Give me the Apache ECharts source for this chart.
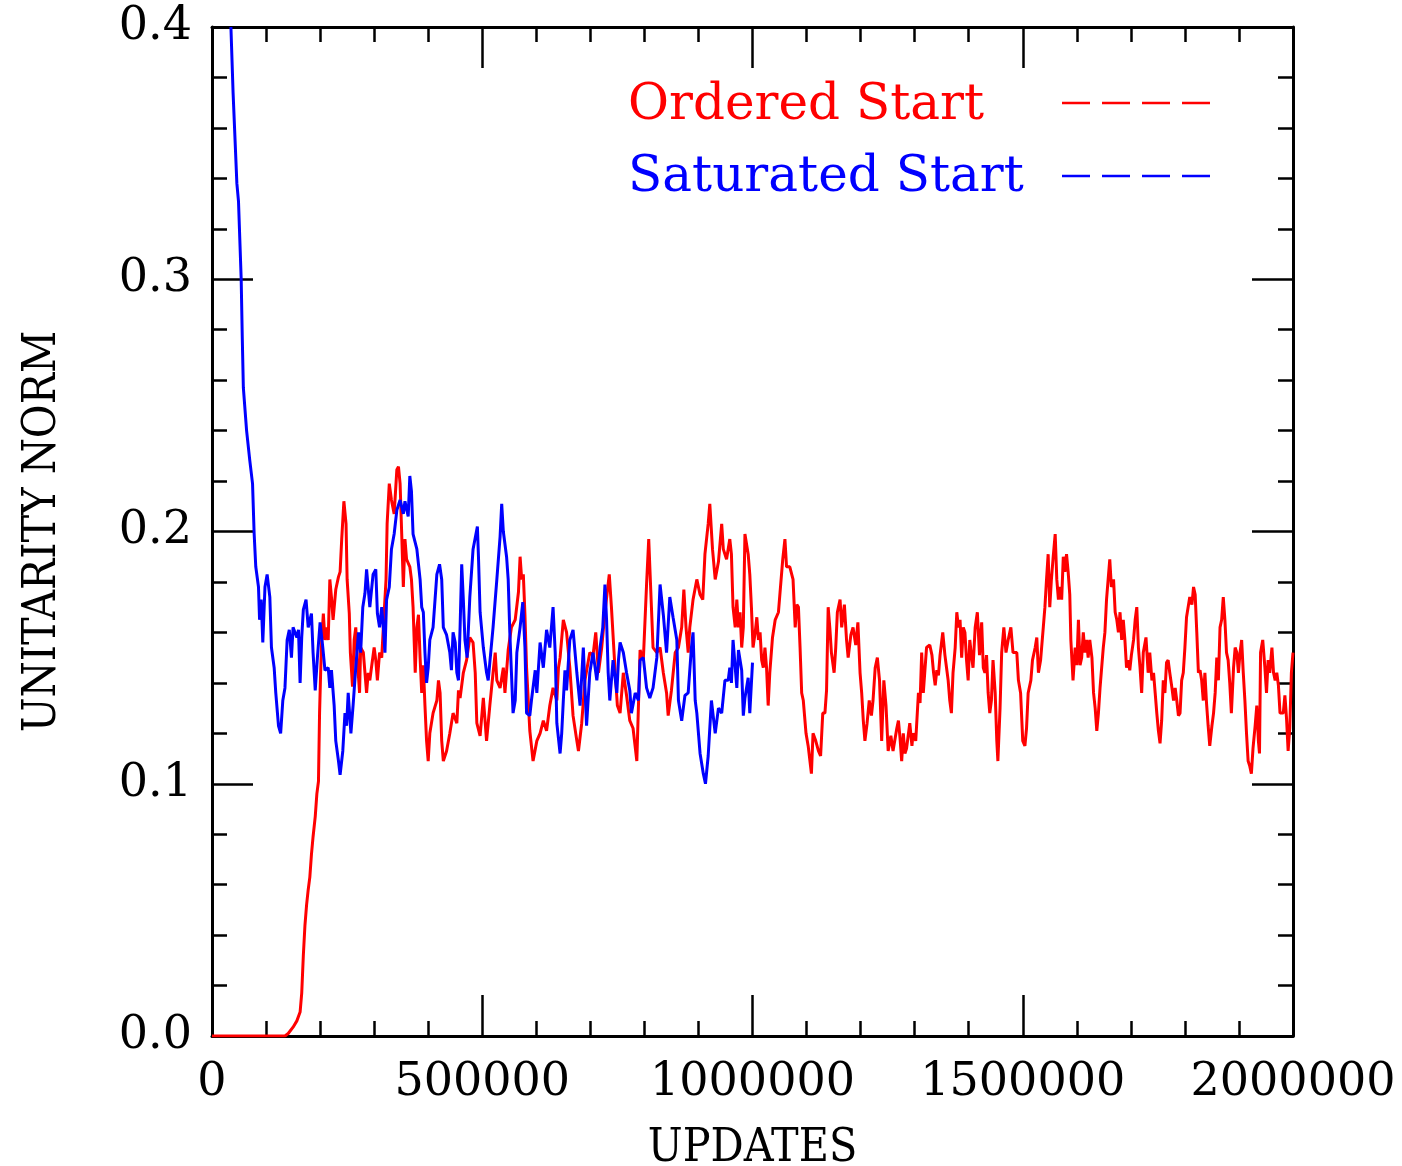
<!DOCTYPE html>
<html>
<head>
<meta charset="utf-8">
<title>Unitarity norm vs updates</title>
<script src="https://cdn.jsdelivr.net/npm/echarts@6/dist/echarts.min.js"></script>
<style>
  html, body { margin: 0; padding: 0; background: #fff; }
  #chart { width: 1402px; height: 1166px; }
</style>
</head>
<body>
<div id="chart"></div>
<script>
// x values are in thousands of updates
const orderedK = [
  0, 135, 141, 150, 157, 163, 166, 169, 172, 175,
  178, 181, 184, 187, 191, 194,
  197, 199, 201, 203, 206, 209, 212, 215, 218, 221,
  224, 229, 234, 237, 240, 244, 248, 250, 254, 256,
  260, 263, 266, 269, 273, 275, 280, 286, 289, 292,
  295, 300, 303, 306, 310, 314, 317, 322, 324, 328,
  332, 337, 342, 345, 348, 351, 354, 357, 360, 366,
  369, 372, 376, 379, 382, 385, 388,
  391, 394, 397, 400, 403, 409, 416, 419, 422, 425,
  428, 434, 440, 446, 453, 456, 459, 465, 471, 477,
  483, 487, 490, 496, 502, 508, 514, 520, 524, 527,
  533, 539, 542, 548, 554, 561, 567, 570, 573, 576,
  579, 582, 588, 594, 601, 607, 613, 619, 625, 631,
  638, 641, 644, 650, 656, 662, 668, 675, 678, 684,
  690, 699, 705, 710, 715, 721, 727, 735, 739, 746,
  750, 755, 761, 767, 773, 779, 786, 792, 798, 804,
  808, 813, 816, 823, 829, 835, 841, 844, 850, 857,
  863, 869, 873, 877, 881, 884, 890, 897, 903, 908,
  912, 918, 921, 926, 931, 937, 943, 946, 952, 958,
  961, 964, 968, 971, 974, 977, 980, 983, 986, 989,
  992, 995, 998, 1001, 1005, 1008, 1011, 1014, 1017, 1020,
  1023, 1026, 1029, 1032, 1037, 1042, 1048, 1051, 1056, 1060,
  1063, 1069, 1075, 1079, 1082, 1085, 1088, 1091, 1094, 1099,
  1103, 1109, 1112, 1117, 1122, 1126, 1130, 1134, 1137, 1140,
  1143, 1146, 1151, 1154, 1157, 1162, 1165, 1170, 1174, 1177,
  1182, 1186, 1191, 1195, 1199, 1202, 1205, 1208, 1212, 1216,
  1220, 1223, 1227, 1231, 1235, 1239, 1243, 1247, 1251, 1256,
  1260, 1267, 1270, 1273, 1276, 1279, 1282, 1285, 1291, 1295,
  1297, 1302, 1307, 1310, 1313, 1316, 1319, 1322, 1328, 1332,
  1335, 1338, 1341, 1344, 1347, 1352, 1356, 1359, 1362, 1365,
  1368, 1371, 1375, 1378, 1381, 1384, 1387, 1390, 1393, 1396,
  1399, 1402, 1405, 1408, 1412, 1416, 1420, 1424, 1427, 1430,
  1433, 1436, 1439, 1442, 1445, 1449, 1452, 1454, 1458, 1461,
  1465, 1469, 1473, 1478, 1482, 1489, 1492, 1496, 1500, 1504,
  1507, 1510, 1515, 1518, 1523, 1526, 1529, 1533, 1538, 1541,
  1544, 1547, 1550, 1553, 1556, 1560, 1563, 1566, 1569, 1572,
  1575, 1578, 1581, 1584, 1587, 1589, 1593, 1597, 1600, 1603,
  1606, 1609, 1612, 1615, 1618, 1621, 1624, 1628, 1631, 1634,
  1637, 1640, 1643, 1646, 1649, 1652, 1655, 1658, 1661, 1664,
  1668, 1671, 1674, 1677, 1680, 1683, 1686, 1689, 1692, 1695,
  1698, 1701, 1705, 1708, 1711, 1714, 1717, 1720, 1723, 1728,
  1732, 1735, 1739, 1742, 1745, 1748, 1751, 1754, 1757, 1760,
  1763, 1766, 1769, 1772, 1776, 1779, 1782, 1785, 1788, 1791,
  1794, 1797, 1800, 1803, 1806, 1809, 1813, 1816, 1819, 1822,
  1825, 1828, 1831, 1834, 1837, 1840, 1843, 1846, 1850, 1853,
  1856, 1859, 1862, 1865, 1868, 1871, 1874, 1877, 1880, 1883,
  1886, 1890, 1893, 1896, 1899, 1902, 1905, 1908, 1911, 1914,
  1917, 1920, 1923, 1926, 1930, 1933, 1936, 1938, 1940, 1944,
  1948, 1951, 1954, 1957, 1961, 1964, 1967, 1970, 1973, 1976,
  1982, 1985, 1988, 1991, 1994, 1997, 2000
];
const orderedNorm = [
  0, 0, .001, .0035, .006, .0095, .017, .032, .044, .052,
  .058, .063, .072, .079, .087, .096,
  .101, .128, .144, .157, .1675, .157, .162, .157, .181, .174,
  .165, .177, .182, .184, .197, .212, .203, .181, .1675, .152,
  .1385, .157, .162, .149, .136, .154, .152, .136, .144, .141,
  .146, .154, .149, .141, .152, .150, .162, .181, .203, .219,
  .2125, .207, .2245, .2257, .219, .199, .178, .197, .189, .186,
  .181, .170, .144, .162, .167, .150, .136,
  .147, .131, .117, .109, .120, .128, .133, .141, .136, .117,
  .109, .113, .120, .128, .124, .137, .134, .144, .149, .158,
  .156, .144, .124, .119, .134, .117, .131, .144, .152, .141,
  .138, .146, .136, .153, .162, .165, .176, .190, .181, .183,
  .167, .146, .121, .109, .117, .120, .125, .121, .131, .138,
  .133, .146, .150, .165, .160, .146, .127, .117, .113, .124,
  .141, .152, .151, .160, .144, .154, .168, .183, .170, .144,
  .131, .128, .144, .135, .125, .122, .109, .153, .149, .179,
  .197, .170, .154, .152, .154, .144, .136, .127, .137, .152,
  .154, .162, .177, .162, .152, .162, .173, .181, .175, .173,
  .191, .203, .211, .193, .181, .188, .203, .193, .189, .197,
  .191, .170, .162, .173, .162, .168, .154, .162, .199, .199,
  .191, .183, .170, .154, .160, .166, .157, .160, .149, .146,
  .154, .146, .131, .144, .158, .165, .168, .176, .189, .197,
  .186, .186, .181, .162, .171, .170, .154, .136, .133, .120,
  .115, .104, .120, .117, .113, .111, .128, .128, .137, .170,
  .162, .152, .144, .154, .168, .173, .162, .171, .157, .150,
  .159, .162, .155, .164, .144, .136, .125, .117, .124, .133,
  .127, .133, .146, .150, .141, .117, .141, .131, .113, .119,
  .113, .122, .125, .118, .109, .120, .112, .114, .124, .115,
  .120, .117, .136, .132, .152, .136, .145, .154, .155, .151,
  .144, .139, .145, .143, .151, .160, .151, .146, .141, .133,
  .128, .144, .154, .168, .162, .165, .150, .162, .160, .149,
  .141, .157, .151, .146, .162, .168, .151, .164, .146, .144,
  .151, .136, .128, .133, .149, .136, .117, .109, .130, .152,
  .162, .152, .157, .162, .152, .152, .141, .136, .117, .115,
  .122, .136, .141, .149, .154, .158, .144, .149, .162, .170,
  .181, .191, .170, .181, .189, .199, .181, .173, .178, .173,
  .190, .184, .191, .184, .175, .157, .141, .154, .147, .165,
  .147, .150, .160, .152, .157, .150, .157, .150, .136, .130,
  .121, .128, .138, .146, .154, .160, .173, .181, .189, .178,
  .181, .168, .165, .160, .168, .157, .165, .157, .146, .149,
  .145, .151, .157, .165, .170, .154, .146, .136, .152, .158,
  .144, .152, .141, .144, .136, .128, .121, .116, .125, .141,
  .136, .148, .149, .144, .138, .133, .138, .133, .127, .128,
  .141, .144, .154, .166, .166, .174, .171, .178, .175, .160,
  .144, .145, .141, .133, .144, .132, .123, .115, .123, .128,
  .136, .150, .141, .162, .165, .174, .165, .152, .149, .140,
  .128, .146, .154, .152, .144, .152, .157, .144, .133, .120,
  .109, .107, .104, .114, .123, .131, .117, .112, .152, .157,
  .146, .136, .149, .144, .154, .144, .141, .144, .139, .128,
  .128, .135, .126, .113, .122, .144, .152
];
const saturatedK = [
  35, 39, 46, 49, 54, 56, 58, 64, 70, 75,
  78, 81, 86, 88, 91, 94, 98, 102, 107, 110,
  115, 118, 123, 127, 131, 135, 139, 143, 147, 150,
  157, 160, 163, 166, 169, 174, 178, 184, 187, 191,
  195, 200, 205, 209, 215, 218, 221, 226, 229, 234,
  237, 242, 246, 249, 252, 257, 261, 266, 271, 275,
  279, 283, 286, 292, 298, 303, 306, 310, 314, 317,
  320, 323, 328, 332, 337, 342, 348, 354, 357, 363,
  366,
  369, 372, 379, 385, 388, 391, 394, 397, 400, 403,
  409, 416, 421, 425, 428, 434, 440, 443, 446, 450,
  453, 456, 459, 462, 465, 468, 472, 477, 483, 491,
  493, 496, 502, 508, 511, 514, 520, 527, 533, 536,
  539, 545, 548, 551, 554, 557, 561, 564, 570, 575,
  579, 582, 588, 591, 598, 601, 607, 613, 619, 625,
  631, 635, 638, 644, 647, 650, 653, 656, 662, 668,
  675, 681, 687, 693, 699, 705, 712, 718, 723, 727,
  730, 733, 736, 742, 749, 752, 755, 761, 767, 773,
  776, 783, 789, 792, 798, 804, 810, 816, 823, 829,
  835, 841, 847, 853, 860, 863, 869, 875, 881, 887,
  890, 894, 897, 903, 909, 913, 918, 924, 931, 937,
  943, 949, 955, 958, 961, 964, 971, 974, 980, 983,
  986, 992, 995, 1000
];
const saturatedNorm = [
  .400, .374, .338, .331, .300, .277, .257, .240, .228, .219,
  .199, .186, .178, .165, .173, .156, .178, .183, .174, .154,
  .146, .136, .123, .120, .133, .138, .157, .161, .150, .162,
  .158, .161, .140, .158, .169, .173, .162, .1675, .152, .137,
  .150, .164, .154, .145, .146, .138, .145, .131, .117, .109,
  .1035, .113, .128, .123, .136, .120, .131, .146, .160, .152,
  .170, .1755, .185, .170, .183, .185, .1675, .162, .170, .162,
  .152, .173, .178, .193, .199, .2085, .2125, .207, .212, .206,
  .222,
  .216, .199, .193, .181, .170, .168, .152, .140, .146, .157,
  .162, .183, .187, .181, .162, .159, .152, .145, .160, .156,
  .144, .141, .162, .187, .173, .157, .150, .174, .193, .202,
  .190, .168, .154, .144, .141, .148, .162, .181, .198, .211,
  .200, .190, .181, .160, .144, .128, .133, .152, .162, .172,
  .154, .128, .127, .133, .145, .136, .156, .146, .161, .154,
  .170, .152, .124, .112, .120, .133, .145, .137, .157, .161,
  .144, .131, .154, .123, .144, .152, .141, .154, .162, .179,
  .165, .144, .133, .149, .136, .149, .156, .152, .144, .137,
  .128, .136, .133, .149, .150, .138, .134, .138, .150, .179,
  .167, .152, .174, .166, .157, .133, .125, .135, .136, .154,
  .160, .133, .128, .112, .104, .100, .111, .133, .120, .130,
  .128, .141, .141, .146, .140, .157, .138, .153, .145, .127,
  .134, .142, .128, .148
];

const tickFont = 'DejaVu Serif';
const nameFont = "'DejaVu Serif Condensed', 'DejaVu Serif'";

function toPoints(kArr, vArr) {
  return kArr.map((k, i) => [k * 1000, vArr[i]]);
}

const chart = echarts.init(document.getElementById('chart'), null, { renderer: 'canvas' });

const tickLine = { color: '#000', width: 2.5 };
const frameLine = { show: true, onZero: false, lineStyle: { color: '#000', width: 3 } };

function xAxisDef(pos, showLabel) {
  return {
    type: 'value', position: pos, min: 0, max: 2000000, interval: 500000,
    axisLine: frameLine,
    axisTick: { show: true, inside: true, length: 41, lineStyle: tickLine },
    minorTick: { show: true, splitNumber: 5, length: 15, lineStyle: tickLine },
    splitLine: { show: false },
    minorSplitLine: { show: false },
    axisLabel: {
      show: showLabel, margin: 24, color: '#000', fontFamily: tickFont, fontSize: 46,
      showMinLabel: true, showMaxLabel: true, hideOverlap: false,
      formatter: v => String(v)
    }
  };
}

function yAxisDef(pos, showLabel) {
  return {
    type: 'value', position: pos, min: 0, max: 0.4, interval: 0.1,
    axisLine: frameLine,
    axisTick: { show: true, inside: true, length: 41, lineStyle: tickLine },
    minorTick: { show: true, splitNumber: 5, length: 15, lineStyle: tickLine },
    splitLine: { show: false },
    minorSplitLine: { show: false },
    axisLabel: {
      show: showLabel, margin: 20, color: '#000', fontFamily: tickFont, fontSize: 46,
      showMinLabel: true, showMaxLabel: true, hideOverlap: false,
      formatter: v => v.toFixed(1)
    }
  };
}

const xBottom = Object.assign(xAxisDef('bottom', true), {
  name: 'UPDATES', nameLocation: 'middle', nameGap: 90,
  nameTextStyle: { color: '#000', fontFamily: nameFont, fontSize: 46 }
});
const yLeft = Object.assign(yAxisDef('left', true), {
  name: 'UNITARITY NORM', nameLocation: 'middle', nameGap: 146, nameRotate: 90,
  nameTextStyle: { color: '#000', fontFamily: nameFont, fontSize: 46 }
});

const option = {
  animation: false,
  backgroundColor: '#fff',
  grid: { left: 212, right: 109, top: 27, bottom: 130, containLabel: false, outerBoundsMode: 'none' },
  xAxis: [xBottom, xAxisDef('top', false)],
  yAxis: [yLeft, yAxisDef('right', false)],
  series: [
    {
      name: 'Ordered Start', type: 'line', xAxisIndex: 0, yAxisIndex: 0,
      data: toPoints(orderedK, orderedNorm),
      showSymbol: false, symbol: 'none', clip: true,
      lineStyle: { color: '#ff0000', width: 3 }
    },
    {
      name: 'Saturated Start', type: 'line', xAxisIndex: 0, yAxisIndex: 0,
      data: toPoints(saturatedK, saturatedNorm),
      showSymbol: false, symbol: 'none', clip: true,
      lineStyle: { color: '#0000ff', width: 3 }
    }
  ],
  // legend drawn by hand: label text followed by a dashed sample line
  graphic: [
    { type: 'text', x: 628, y: 106, style: { text: 'Ordered Start', fill: '#ff0000', font: '50px "DejaVu Serif"', verticalAlign: 'middle' } },
    { type: 'line', shape: { x1: 1062, y1: 103, x2: 1210, y2: 103 }, style: { stroke: '#ff0000', lineWidth: 2.5, lineDash: [28, 12] } },
    { type: 'text', x: 628, y: 178, style: { text: 'Saturated Start', fill: '#0000ff', font: '50px "DejaVu Serif"', verticalAlign: 'middle' } },
    { type: 'line', shape: { x1: 1062, y1: 176, x2: 1210, y2: 176 }, style: { stroke: '#0000ff', lineWidth: 2.5, lineDash: [28, 12] } }
  ]
};

chart.setOption(option);
</script>
</body>
</html>
